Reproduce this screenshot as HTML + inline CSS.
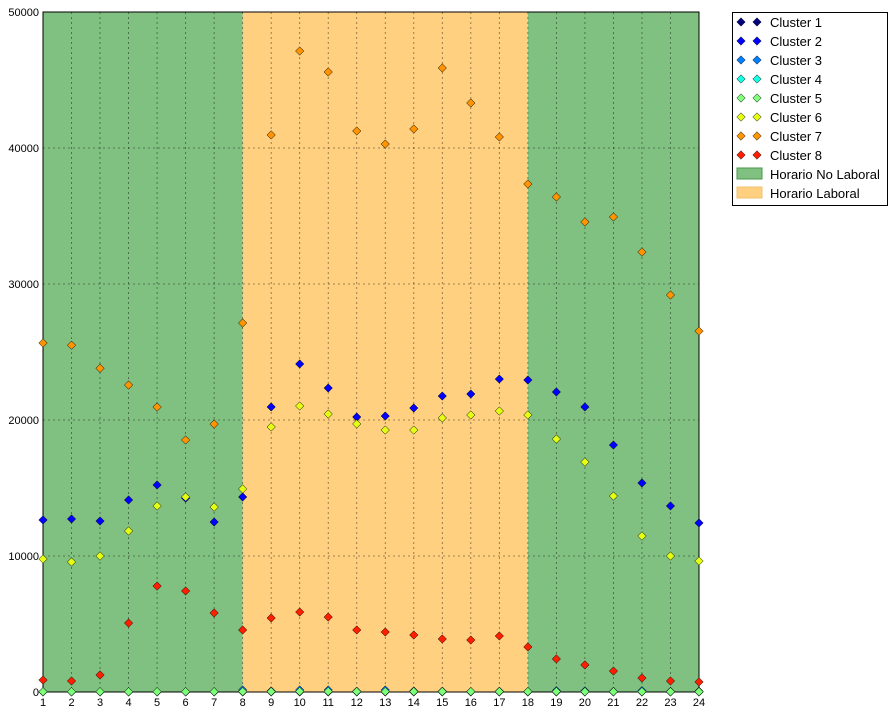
<!DOCTYPE html>
<html><head><meta charset="utf-8"><style>
body{margin:0;background:#fff;}
svg{display:block;font-family:"Liberation Sans",sans-serif;}
</style></head><body>
<svg id="chart" width="895" height="714"></svg>
<script>
const hours=[1,2,3,4,5,6,7,8,9,10,11,12,13,14,15,16,17,18,19,20,21,22,23,24];
const yTicks=[0,10000,20000,30000,40000,50000];
const cluster1=[0,0,0,0,0,0,0,0,0,0,0,0,0,0,0,0,0,0,0,0,0,0,0,0];
const cluster2=[12650,12720,12570,14120,15220,14260,12500,14340,20960,24120,22350,20220,20290,20880,21760,21910,23010,22940,22060,20960,18160,15370,13680,12430];
const cluster3=[30,20,20,20,20,20,20,150,80,150,150,60,150,80,60,40,60,40,100,80,40,100,40,60];
const cluster4=[10,10,10,10,10,10,10,20,10,20,20,10,20,10,10,10,10,10,10,10,10,10,10,10];
const cluster5=[20,20,20,20,20,20,20,30,30,40,40,30,30,30,30,30,30,30,30,20,20,20,20,20];
const cluster6=[9780,9560,10000,11840,13680,14340,13600,14930,19490,21030,20440,19710,19260,19260,20150,20370,20660,20370,18600,16910,14410,11470,10000,9630];
const cluster7=[25660,25500,23800,22570,20950,18530,19700,27130,40960,47130,45590,41250,40290,41400,45880,43310,40810,37350,36400,34560,34930,32350,29190,26540];
const cluster8=[880,810,1250,5070,7790,7430,5810,4560,5440,5880,5510,4560,4410,4190,3900,3820,4120,3310,2430,1990,1540,1030,810,740];
const seriesNames=["Cluster 1","Cluster 2","Cluster 3","Cluster 4","Cluster 5","Cluster 6","Cluster 7","Cluster 8"];
const seriesColors=["#000080","#0000ff","#0080ff","#15ffe1","#7dff7a","#e4ff13","#ff9400","#ff1e00"];
const seriesData=[cluster1,cluster2,cluster3,cluster4,cluster5,cluster6,cluster7,cluster8];
const bands=[[1,8,"#80c080","Horario No Laboral"],[8,18,"#ffd080","Horario Laboral"],[18,24,"#80c080",null]];

const NS="http://www.w3.org/2000/svg";
const svg=document.getElementById('chart');
const L=43,R=699,T=12,B=692;
const xS=v=>L+(v-1)/(23)*(R-L);
const yS=v=>B-v/50000*(B-T);
function mk(tag,attrs,parent){const e=document.createElementNS(NS,tag);for(const k in attrs)e.setAttribute(k,attrs[k]);(parent||svg).appendChild(e);return e;}

bands.forEach(b=>{
 const r=mk('rect',{x:xS(b[0]),y:T,width:xS(b[1])-xS(b[0]),height:B-T,fill:b[2]});
 
 
});
hours.forEach(h=>{
 const l=mk('line',{x1:xS(h),x2:xS(h),y1:T,y2:B,stroke:'#000','stroke-opacity':0.5,'stroke-dasharray':'2,3','stroke-width':0.8});
 
 
 const t=mk('text',{x:xS(h),y:B+14,'font-size':11,'text-anchor':'middle'});t.textContent=h;
 
 
});
yTicks.forEach(v=>{
 const l=mk('line',{x1:L,x2:R,y1:yS(v),y2:yS(v),stroke:'#000','stroke-opacity':0.5,'stroke-dasharray':'2,3','stroke-width':0.8});
 
 
 const t=mk('text',{x:L-4,y:yS(v)+4,'font-size':11,'text-anchor':'end'});t.textContent=v;
 
 
});
const fr=mk('rect',{x:L,y:T,width:R-L,height:B-T,fill:'none',stroke:'#000','stroke-width':1});



function diamond(cx,cy,c,p){
 const s=4.2;
 return mk('polygon',{points:`${cx},${cy-s} ${cx+s},${cy} ${cx},${cy+s} ${cx-s},${cy}`,fill:c,stroke:'#000','stroke-width':0.5},p);
}
seriesData.forEach((arr,i)=>{
 const g=mk('g',{});
 
 
 arr.forEach((v,j)=>{
  const d=diamond(xS(hours[j]),yS(v),seriesColors[i],g);
  
  
 });
});

const lg=mk('g',{});


mk('rect',{x:732.5,y:12.5,width:155,height:193,fill:'#fff',stroke:'#000','stroke-width':1},lg);
seriesNames.forEach((n,i)=>{
 const y=22+i*19;
 const e=mk('g',{},lg);
 
 
 diamond(741,y,seriesColors[i],e);diamond(757,y,seriesColors[i],e);
 const t=mk('text',{x:770,y:y+5,'font-size':13},e);t.textContent=n;
});
[["#80c080","#4a9a4a","Horario No Laboral"],["#ffd080","#f0c070","Horario Laboral"]].forEach((b,i)=>{
 const y=22+(8+i)*19;
 const e=mk('g',{},lg);
 
 
 mk('rect',{x:737,y:y-6,width:25,height:11,fill:b[0],stroke:b[1]},e);
 const t=mk('text',{x:770,y:y+5,'font-size':13},e);t.textContent=b[2];
});
</script>
</body></html>
